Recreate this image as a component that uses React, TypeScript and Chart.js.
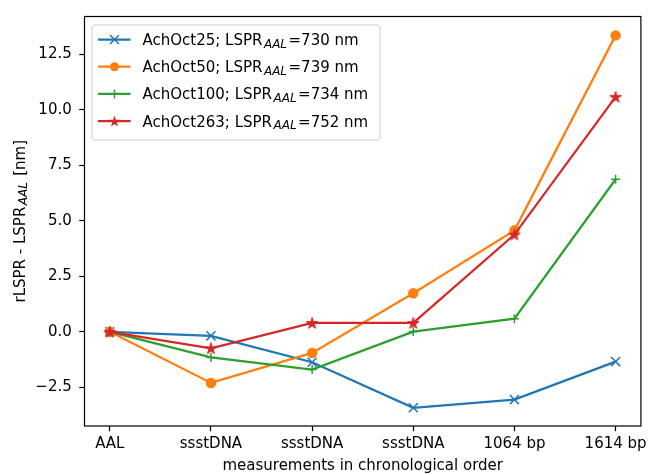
import React, { useEffect, useRef } from 'react';
import { Chart, registerables } from 'chart.js';

Chart.register(...registerables);

const categories = ['AAL', 'ssstDNA', 'ssstDNA', 'ssstDNA', '1064 bp', '1614 bp'];
const seriesNames = ['AchOct25', 'AchOct50', 'AchOct100', 'AchOct263'];
const lsprValues = [730, 739, 734, 752];
const achOct25 = [0, -0.18, -1.37, -3.42, -3.05, -1.34];
const achOct50 = [0, -2.3, -0.95, 1.74, 4.57, 13.35];
const achOct100 = [0, -1.15, -1.7, 0.01, 0.59, 6.87];
const achOct263 = [0, -0.74, 0.4, 0.4, 4.38, 10.58];
const yTicks = [-2.5, 0, 2.5, 5, 7.5, 10, 12.5];
const xTitle = 'measurements in chronological order';
const yTitleMain = 'rLSPR - LSPR';
const yTitleSub = 'AAL';
const yTitleRest = ' [nm]';

const seriesValues = [achOct25, achOct50, achOct100, achOct263];
const colors = ['#1f77b4', '#ff7f0e', '#2ca02c', '#d62728'];
const FONT = '"DejaVu Sans", sans-serif';
const FS = 15;
const SUB = 12;

function starPath(ctx: CanvasRenderingContext2D, cx: number, cy: number, R: number) {
  const r = R * 0.382;
  ctx.beginPath();
  for (let i = 0; i < 10; i++) {
    const ang = -Math.PI / 2 + (i * Math.PI) / 5;
    const rad = i % 2 === 0 ? R : r;
    const x = cx + rad * Math.cos(ang);
    const y = cy + rad * Math.sin(ang);
    if (i === 0) ctx.moveTo(x, y);
    else ctx.lineTo(x, y);
  }
  ctx.closePath();
}

function makeStar(color: string) {
  const c = document.createElement('canvas');
  c.width = 14;
  c.height = 14;
  const ctx = c.getContext('2d')!;
  starPath(ctx, 7, 7.5, 6);
  ctx.fillStyle = color;
  ctx.fill();
  ctx.strokeStyle = color;
  ctx.lineWidth = 1;
  ctx.stroke();
  return c;
}

// draws text with alphabetic baseline at y
function drawRich(ctx: CanvasRenderingContext2D, x: number, y: number, main: string, sub: string, rest: string, measureOnly = false) {
  ctx.textBaseline = 'alphabetic';
  ctx.font = `${FS}px ${FONT}`;
  const w1 = ctx.measureText(main).width + 1.5;
  if (!measureOnly) ctx.fillText(main, x, y);
  ctx.font = `italic ${SUB}px ${FONT}`;
  const w2 = ctx.measureText(sub).width + 1.5;
  if (!measureOnly) ctx.fillText(sub, x + w1, y + 2.5);
  ctx.font = `${FS}px ${FONT}`;
  const w3 = ctx.measureText(rest).width;
  if (!measureOnly) ctx.fillText(rest, x + w1 + w2, y);
  return w1 + w2 + w3;
}

function drawMarker(ctx: CanvasRenderingContext2D, i: number, x: number, y: number) {
  const color = colors[i];
  ctx.save();
  ctx.strokeStyle = color;
  ctx.fillStyle = color;
  ctx.lineWidth = 1.5;
  if (i === 0) {
    ctx.beginPath();
    ctx.moveTo(x - 4.5, y - 4.5); ctx.lineTo(x + 4.5, y + 4.5);
    ctx.moveTo(x - 4.5, y + 4.5); ctx.lineTo(x + 4.5, y - 4.5);
    ctx.stroke();
  } else if (i === 1) {
    ctx.beginPath();
    ctx.arc(x, y, 4.5, 0, Math.PI * 2);
    ctx.fill();
  } else if (i === 2) {
    ctx.beginPath();
    ctx.moveTo(x - 4.5, y); ctx.lineTo(x + 4.5, y);
    ctx.moveTo(x, y - 4.5); ctx.lineTo(x, y + 4.5);
    ctx.stroke();
  } else {
    starPath(ctx, x, y + 0.5, 6);
    ctx.fill();
  }
  ctx.restore();
}

const decorPlugin = {
  id: 'decor',
  afterDraw(chart: any) {
    const { ctx, chartArea } = chart;
    const { left, right, top, bottom } = chartArea;
    ctx.save();
    // frame
    ctx.strokeStyle = '#000';
    ctx.lineWidth = 1.2;
    ctx.strokeRect(left, top, right - left, bottom - top);

    // legend
    const bx = left + 7.5, by = top + 8.5, bw = 288, bh = 115;
    ctx.beginPath();
    (ctx as any).roundRect(bx, by, bw, bh, 3);
    ctx.fillStyle = 'rgba(255,255,255,0.8)';
    ctx.fill();
    ctx.strokeStyle = '#cccccc';
    ctx.lineWidth = 1;
    ctx.stroke();
    for (let i = 0; i < seriesNames.length; i++) {
      const ry = by + 14.5 + i * 27.2;
      ctx.strokeStyle = colors[i];
      ctx.lineWidth = 2.25;
      ctx.beginPath();
      ctx.moveTo(bx + 6, ry);
      ctx.lineTo(bx + 38.5, ry);
      ctx.stroke();
      drawMarker(ctx, i, bx + 22.5, ry);
      ctx.fillStyle = '#000';
      drawRich(ctx, bx + 50.5, ry + 5.5, `${seriesNames[i]}; LSPR`, 'AAL', `=${lsprValues[i]} nm`);
    }

    // x title
    ctx.font = `${FS}px ${FONT}`;
    ctx.textAlign = 'center';
    ctx.textBaseline = 'middle';
    ctx.fillText(xTitle, (left + right) / 2, 466);

    // y title
    ctx.textAlign = 'left';
    const tw = drawRich(ctx, 0, 0, yTitleMain, yTitleSub, yTitleRest, true);
    ctx.translate(19, (top + bottom) / 2);
    ctx.rotate(-Math.PI / 2);
    drawRich(ctx, -tw / 2, 5.5, yTitleMain, yTitleSub, yTitleRest);
    ctx.restore();
  },
};

export default function App() {
  const ref = useRef<HTMLCanvasElement>(null);
  useEffect(() => {
    document.body.style.margin = '0';
    const stars = makeStar(colors[3]);
    const pointStyles: any[] = ['crossRot', 'circle', 'cross', stars];
    const radii = [6.4, 4.5, 4.5, 7];
    const datasets = seriesValues.map((vals, i) => ({
      label: seriesNames[i],
      data: vals.map((v, k) => ({ x: k, y: v })),
      borderColor: colors[i],
      backgroundColor: colors[i],
      pointBackgroundColor: colors[i],
      pointBorderColor: colors[i],
      borderWidth: 2.25,
      pointBorderWidth: 1.5,
      pointStyle: pointStyles[i],
      pointRadius: radii[i],
      tension: 0,
      order: seriesNames.length - i,
    }));
    const tickFont = { family: FONT, size: FS };
    const chart = new Chart(ref.current!, {
      type: 'line',
      data: { datasets },
      options: {
        animation: false,
        responsive: false,
        devicePixelRatio: 1,
        layout: { padding: { top: 12.5, right: 8.7, left: 0, bottom: 0 } },
        plugins: { legend: { display: false }, tooltip: { enabled: false } },
        scales: {
          x: {
            type: 'linear',
            min: -0.25,
            max: 5.25,
            afterFit: (s: any) => { s.height = 49; },
            afterBuildTicks: (s: any) => { s.ticks = categories.map((_, k) => ({ value: k })); },
            ticks: {
              autoSkip: false,
              maxRotation: 0,
              padding: 4,
              color: '#000',
              font: tickFont,
              callback: (v: any) => categories[Math.round(Number(v))] ?? '',
            },
            grid: { display: true, drawOnChartArea: false, drawTicks: true, tickLength: 5.25, tickColor: '#000', tickWidth: 1.2 },
            border: { display: false },
          },
          y: {
            type: 'linear',
            min: -4.24,
            max: 14.2,
            afterFit: (s: any) => { s.width = 84.5; },
            afterBuildTicks: (s: any) => { s.ticks = yTicks.map((v) => ({ value: v })); },
            ticks: {
              padding: 7.5,
              color: '#000',
              font: tickFont,
              callback: (v: any) => (Number(v) < 0 ? '\u2212' + Math.abs(Number(v)).toFixed(1) : Number(v).toFixed(1)),
            },
            grid: { display: true, drawOnChartArea: false, drawTicks: true, tickLength: 5.25, tickColor: '#000', tickWidth: 1.2 },
            border: { display: false },
          },
        },
      },
      plugins: [decorPlugin],
    } as any);
    return () => chart.destroy();
  }, []);
  return <canvas ref={ref} width={651} height={475} style={{ display: 'block' }} />;
}
